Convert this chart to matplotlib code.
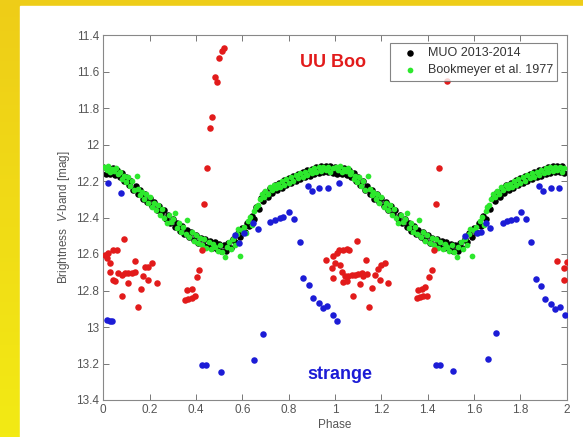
import matplotlib
matplotlib.use('Agg')
import matplotlib.pyplot as plt
import numpy as np
from matplotlib.patches import Rectangle

plt.rcParams['font.family'] = ['Liberation Sans', 'DejaVu Sans']
plt.rcParams['mathtext.fontset'] = 'custom'
plt.rcParams['mathtext.it'] = 'Liberation Sans:italic'
plt.rcParams['mathtext.rm'] = 'Liberation Sans'

# MUO 2013-2014, one cycle (plotted twice)
muo_phase = [0.00, 0.01, 0.02, 0.03, 0.04, 0.05, 0.06, 0.07, 0.08, 0.09,
             0.10, 0.11, 0.12, 0.13, 0.14, 0.15, 0.16, 0.17, 0.18, 0.19,
             0.20, 0.21, 0.22, 0.23, 0.24, 0.25, 0.26, 0.27, 0.28, 0.29,
             0.30, 0.31, 0.32, 0.33, 0.34, 0.35, 0.36, 0.37, 0.38, 0.39,
             0.40, 0.41, 0.42, 0.43, 0.44, 0.45, 0.46, 0.47, 0.48, 0.49,
             0.50, 0.51, 0.52, 0.53, 0.54, 0.55, 0.56, 0.57, 0.58, 0.59,
             0.60, 0.61, 0.62, 0.63, 0.64, 0.65, 0.66, 0.67, 0.68, 0.69,
             0.70, 0.71, 0.72, 0.73, 0.74, 0.75, 0.76, 0.77, 0.78, 0.79,
             0.80, 0.81, 0.82, 0.83, 0.84, 0.85, 0.86, 0.87, 0.88, 0.89,
             0.90, 0.91, 0.92, 0.93, 0.94, 0.95, 0.96, 0.97, 0.98, 0.99]
muo_mag = [12.123, 12.159, 12.128, 12.163, 12.131, 12.167, 12.138, 12.179, 12.155, 12.200,
           12.178, 12.224, 12.202, 12.248, 12.226, 12.272, 12.250, 12.296, 12.273, 12.317,
           12.293, 12.337, 12.313, 12.358, 12.336, 12.382, 12.360, 12.406, 12.384, 12.430,
           12.408, 12.452, 12.428, 12.472, 12.448, 12.492, 12.466, 12.508, 12.482, 12.524,
           12.498, 12.538, 12.510, 12.549, 12.519, 12.557, 12.527, 12.565, 12.535, 12.573,
           12.543, 12.581, 12.551, 12.583, 12.541, 12.567, 12.517, 12.535, 12.485, 12.505,
           12.458, 12.478, 12.430, 12.447, 12.393, 12.407, 12.345, 12.351, 12.293, 12.309,
           12.263, 12.285, 12.239, 12.265, 12.224, 12.252, 12.210, 12.236, 12.195, 12.223,
           12.183, 12.211, 12.171, 12.199, 12.159, 12.187, 12.149, 12.179, 12.141, 12.171,
           12.133, 12.163, 12.125, 12.156, 12.120, 12.152, 12.118, 12.152, 12.119, 12.155]

# Bookmeyer et al. 1977, one cycle (plotted twice)
bk_phase = [0.005, 0.015, 0.022, 0.030, 0.038, 0.047, 0.055, 0.063, 0.071, 0.080,
            0.088, 0.097, 0.105, 0.114, 0.122, 0.131, 0.144, 0.150, 0.158, 0.166,
            0.175, 0.183, 0.192, 0.200, 0.210, 0.218, 0.228, 0.236, 0.246, 0.255,
            0.264, 0.274, 0.283, 0.292, 0.302, 0.310, 0.318, 0.328, 0.337, 0.346,
            0.356, 0.362, 0.372, 0.381, 0.390, 0.399, 0.408, 0.417, 0.426, 0.436,
            0.445, 0.455, 0.464, 0.474, 0.484, 0.494, 0.503, 0.513, 0.525, 0.533,
            0.543, 0.552, 0.561, 0.570, 0.578, 0.583, 0.590, 0.598, 0.607, 0.616,
            0.625, 0.633, 0.641, 0.650, 0.658, 0.666, 0.675, 0.684, 0.692, 0.700,
            0.709, 0.718, 0.727, 0.736, 0.745, 0.754, 0.763, 0.772, 0.781, 0.790,
            0.800, 0.810, 0.820, 0.830, 0.840, 0.850, 0.860, 0.870, 0.880, 0.890,
            0.900, 0.910, 0.920, 0.930, 0.940, 0.950, 0.960, 0.970, 0.980, 0.990]
bk_mag = [12.125, 12.140, 12.118, 12.150, 12.132, 12.145, 12.128, 12.160, 12.148, 12.190,
          12.170, 12.205, 12.178, 12.225, 12.200, 12.250, 12.172, 12.245, 12.275, 12.258,
          12.300, 12.270, 12.318, 12.290, 12.345, 12.318, 12.360, 12.334, 12.385, 12.352,
          12.400, 12.432, 12.385, 12.425, 12.408, 12.374, 12.455, 12.430, 12.478, 12.452,
          12.490, 12.414, 12.505, 12.478, 12.530, 12.496, 12.540, 12.510, 12.550, 12.520,
          12.565, 12.532, 12.575, 12.545, 12.560, 12.585, 12.550, 12.590, 12.615, 12.560,
          12.535, 12.575, 12.520, 12.548, 12.490, 12.465, 12.610, 12.470, 12.450, 12.485,
          12.420, 12.395, 12.440, 12.365, 12.340, 12.330, 12.300, 12.270, 12.285, 12.255,
          12.270, 12.235, 12.250, 12.220, 12.240, 12.215, 12.232, 12.200, 12.222, 12.190,
          12.210, 12.180, 12.198, 12.168, 12.185, 12.158, 12.178, 12.148, 12.165, 12.140,
          12.158, 12.130, 12.150, 12.125, 12.145, 12.122, 12.140, 12.125, 12.148, 12.130]

# red points
red_phase = [0.007, 0.015, 0.022, 0.029, 0.029, 0.043, 0.043, 0.050, 0.058, 0.065,
             0.079, 0.079, 0.091, 0.094, 0.108, 0.108, 0.122, 0.137, 0.137, 0.148,
             0.163, 0.173, 0.180, 0.192, 0.194, 0.212, 0.230,
             0.353, 0.360, 0.367, 0.381, 0.381, 0.396, 0.403, 0.413, 0.427, 0.436,
             0.446, 0.460, 0.470, 0.482, 0.492, 0.500, 0.511, 0.521,
             0.961, 0.986, 0.990, 0.993, 1.000, 1.007, 1.019, 1.022, 1.029, 1.036,
             1.036, 1.043, 1.050, 1.050, 1.057, 1.062, 1.072, 1.079, 1.086, 1.094,
             1.100, 1.108, 1.115, 1.122, 1.134, 1.137, 1.148, 1.158, 1.173, 1.187,
             1.194, 1.200, 1.216, 1.230,
             1.353, 1.360, 1.367, 1.374, 1.381, 1.388, 1.396, 1.407, 1.417, 1.427,
             1.434, 1.449, 1.484,
             1.957, 1.988, 1.988, 2.000]
red_mag = [12.605, 12.620, 12.596, 12.650, 12.700, 12.580, 12.740, 12.750, 12.578, 12.705,
           12.715, 12.830, 12.520, 12.705, 12.705, 12.760, 12.705, 12.700, 12.640, 12.890,
           12.790, 12.720, 12.670, 12.740, 12.670, 12.650, 12.760,
           12.850, 12.797, 12.847, 12.843, 12.793, 12.830, 12.724, 12.688, 12.580, 12.328,
           12.130, 11.908, 11.848, 11.628, 11.656, 11.524, 11.490, 11.470,
           12.633, 12.678, 12.733, 12.610, 12.651, 12.596, 12.578, 12.660, 12.700, 12.578,
           12.752, 12.720, 12.574, 12.748, 12.720, 12.578, 12.715, 12.828, 12.715, 12.527,
           12.710, 12.766, 12.706, 12.720, 12.633, 12.710, 12.892, 12.785, 12.715, 12.680,
           12.740, 12.660, 12.648, 12.760,
           12.843, 12.797, 12.834, 12.790, 12.830, 12.780, 12.830, 12.724, 12.690, 12.580,
           12.328, 12.130, 11.650,
           12.637, 12.678, 12.740, 12.644]

# blue points
blue_phase = [0.015, 0.019, 0.029, 0.039, 0.076, 0.428, 0.445, 0.508, 0.568, 0.587,
              0.609, 0.647, 0.652, 0.669, 0.690, 0.719, 0.741, 0.763, 0.777, 0.803,
              0.823, 0.847, 0.863, 0.882, 0.888, 0.900, 0.906, 0.930, 0.932, 0.950,
              0.967, 0.969, 0.990, 1.007, 1.018,
              1.436, 1.453, 1.511, 1.561, 1.611, 1.629, 1.652, 1.659, 1.669, 1.695,
              1.724, 1.741, 1.758, 1.781, 1.803, 1.824, 1.845, 1.866, 1.882, 1.889,
              1.899, 1.908, 1.931, 1.931, 1.950, 1.968, 1.971, 1.993]
blue_mag = [12.960, 12.213, 12.965, 12.969, 12.267, 13.210, 13.208, 13.245, 12.496, 12.540,
            12.487, 12.428, 13.180, 12.462, 13.040, 12.423, 12.414, 12.404, 12.396, 12.368,
            12.410, 12.535, 12.733, 12.227, 12.770, 12.255, 12.843, 12.237, 12.870, 12.898,
            12.885, 12.240, 12.934, 12.965, 12.213,
            13.208, 13.206, 13.241, 12.500, 12.487, 12.482, 12.428, 13.177, 12.460, 13.035,
            12.428, 12.420, 12.414, 12.410, 12.368, 12.410, 12.536, 12.737, 12.227, 12.774,
            12.253, 12.847, 12.237, 12.874, 12.903, 12.240, 12.892, 12.936]

xticks = [0, 0.2, 0.4, 0.6, 0.8, 1, 1.2, 1.4, 1.6, 1.8, 2]
xticklabels = ['0', '0.2', '0.4', '0.6', '0.8', '1', '1.2', '1.4', '1.6', '1.8', '2']
yticks = [11.4, 11.6, 11.8, 12.0, 12.2, 12.4, 12.6, 12.8, 13.0, 13.2, 13.4]
yticklabels = ['11.4', '11.6', '11.8', '12', '12.2', '12.4', '12.6', '12.8', '13', '13.2', '13.4']

W, H = 583, 437
fig = plt.figure(figsize=(W / 100, H / 100), dpi=100)

# slide background: yellow gradient with a white sheet on top
bg = fig.add_axes([0, 0, 1, 1], zorder=-10)
grad = np.linspace(0, 1, 100).reshape(-1, 1)
cmap = matplotlib.colors.LinearSegmentedColormap.from_list('yel', ['#eecd18', '#f3ea14'])
bg.imshow(grad, aspect='auto', cmap=cmap, extent=[0, 1, 0, 1], origin='upper')
bg.add_patch(Rectangle((20 / W, 0), 1, 1 - 6 / H, color='white', transform=bg.transAxes))
bg.set_xlim(0, 1)
bg.set_ylim(0, 1)
bg.axis('off')

ax = fig.add_axes([103.3 / W, 1 - 400 / H, 463.4 / W, 365 / H])

mp = np.array(muo_phase)
bp = np.array(bk_phase)
h1 = ax.scatter(np.concatenate([mp, mp + 1]), muo_mag * 2, s=22, c='black', lw=0,
                label='MUO 2013-2014', zorder=2)
h2 = ax.scatter(np.concatenate([bp, bp + 1]), bk_mag * 2, s=17, c='#2de82d', lw=0,
                label='Bookmeyer et al. 1977', zorder=3)
ax.scatter(red_phase, red_mag, s=22, c='#e21b1b', lw=0, zorder=4)
ax.scatter(blue_phase, blue_mag, s=22, c='#1c1cd6', lw=0, zorder=5)

ax.set_xlim(0, 2)
ax.set_ylim(13.4, 11.4)
ax.set_xticks(xticks)
ax.set_xticklabels(xticklabels)
ax.set_yticks(yticks)
ax.set_yticklabels(yticklabels)
ax.tick_params(direction='in', length=4, width=0.7, colors='#777777', labelcolor='#555555',
               labelsize=8.5, top=True, right=True, pad=3)
for sp in ax.spines.values():
    sp.set_color('#888888')
    sp.set_linewidth(0.8)

ax.set_xlabel('Phase', fontsize=8.5, color='#555555', labelpad=2)
ax.set_ylabel('Brightness  $V$-band [mag]', fontsize=8.5, color='#555555', labelpad=3)

ax.text(0.99, 11.55, 'UU Boo', color='#e21b1b', fontsize=13, fontweight='bold',
        ha='center', va='center')
ax.text(1.02, 13.26, 'strange', color='#1c1cd6', fontsize=13, fontweight='bold',
        ha='center', va='center')

leg = ax.legend(handles=[h1, h2], loc='upper right', bbox_to_anchor=(0.98, 0.978),
                fontsize=9, frameon=True, fancybox=False, borderpad=0.35,
                handletextpad=0.15, handlelength=2.5, labelspacing=0.4,
                borderaxespad=0)
leg.get_frame().set_edgecolor('#666666')
leg.get_frame().set_linewidth(0.8)
for t in leg.get_texts():
    t.set_color('#333333')

fig.savefig('out.png', dpi=100)
